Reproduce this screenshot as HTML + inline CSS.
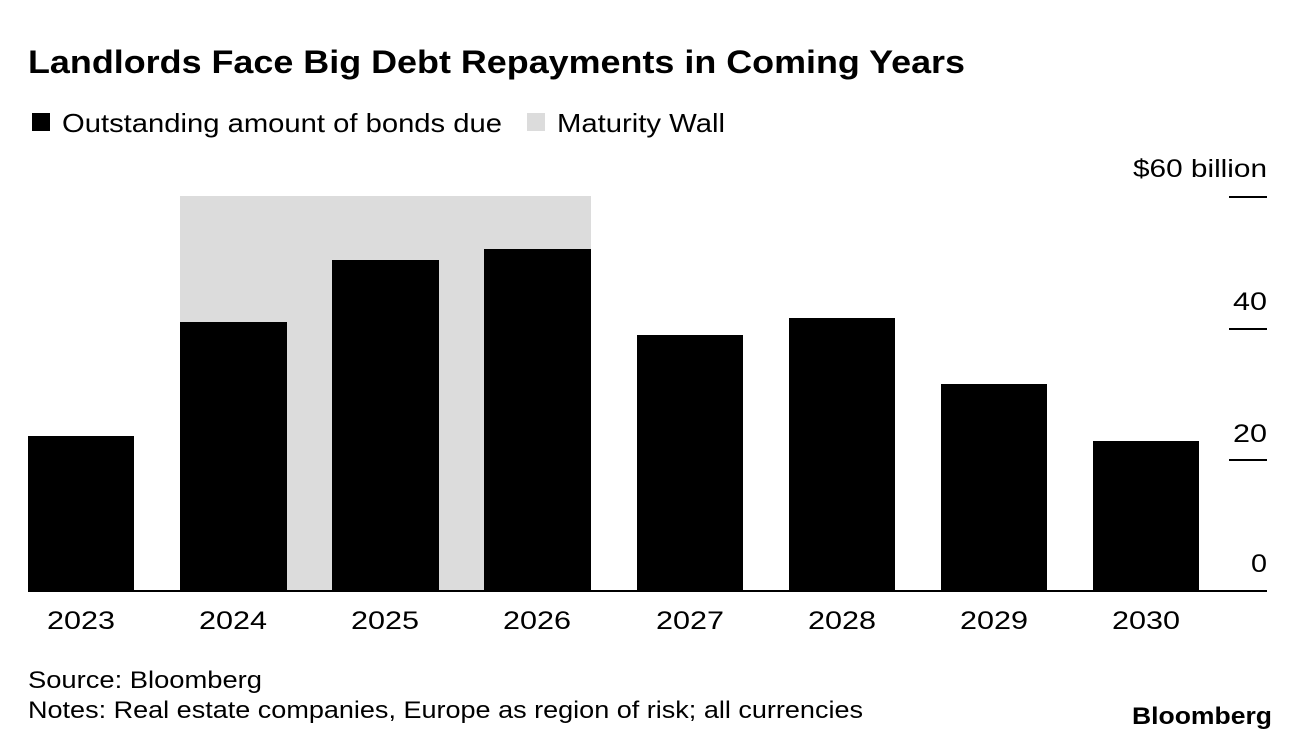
<!DOCTYPE html>
<html><head><meta charset="utf-8"><style>
html,body{margin:0;padding:0;background:#fff;}
body{width:1296px;height:748px;overflow:hidden;font-family:"Liberation Sans",Arial,sans-serif;}
</style></head><body>
<svg width="1296" height="748" xmlns="http://www.w3.org/2000/svg" font-family="Liberation Sans, Arial, sans-serif">
<text x="28" y="73" font-size="32" font-weight="bold" fill="#000" textLength="937" lengthAdjust="spacingAndGlyphs">Landlords Face Big Debt Repayments in Coming Years</text>
<rect x="32" y="113" width="18" height="18" fill="#000"/>
<text x="62" y="132" font-size="26" fill="#000" textLength="440" lengthAdjust="spacingAndGlyphs">Outstanding amount of bonds due</text>
<rect x="527" y="113" width="18" height="18" fill="#dcdcdc"/>
<text x="557" y="132" font-size="26" fill="#000" textLength="168" lengthAdjust="spacingAndGlyphs">Maturity Wall</text>
<rect x="180" y="196" width="411" height="395" fill="#dcdcdc"/>
<g fill="#000">
<rect x="28" y="436" width="106" height="155"/>
<rect x="180" y="322" width="107" height="269"/>
<rect x="332" y="260" width="107" height="331"/>
<rect x="484" y="249" width="107" height="342"/>
<rect x="637" y="335" width="106" height="256"/>
<rect x="789" y="318" width="106" height="273"/>
<rect x="941" y="384" width="106" height="207"/>
<rect x="1093" y="441" width="106" height="150"/>
</g>
<line x1="28" y1="591" x2="1267" y2="591" stroke="#000" stroke-width="2"/>
<g stroke="#000" stroke-width="2">
<line x1="1229" y1="197" x2="1267" y2="197"/>
<line x1="1229" y1="329" x2="1267" y2="329"/>
<line x1="1229" y1="460" x2="1267" y2="460"/>
</g>
<g font-size="25" fill="#000">
<text x="1133" y="177" textLength="134" lengthAdjust="spacingAndGlyphs">$60 billion</text>
<text x="1233" y="310" textLength="34" lengthAdjust="spacingAndGlyphs">40</text>
<text x="1233" y="442" textLength="34" lengthAdjust="spacingAndGlyphs">20</text>
<text x="1251" y="572" textLength="16" lengthAdjust="spacingAndGlyphs">0</text>
</g>
<g font-size="25" fill="#000">
<text x="47" y="629" textLength="68" lengthAdjust="spacingAndGlyphs">2023</text>
<text x="199" y="629" textLength="68" lengthAdjust="spacingAndGlyphs">2024</text>
<text x="351" y="629" textLength="68" lengthAdjust="spacingAndGlyphs">2025</text>
<text x="503" y="629" textLength="68" lengthAdjust="spacingAndGlyphs">2026</text>
<text x="656" y="629" textLength="68" lengthAdjust="spacingAndGlyphs">2027</text>
<text x="808" y="629" textLength="68" lengthAdjust="spacingAndGlyphs">2028</text>
<text x="960" y="629" textLength="68" lengthAdjust="spacingAndGlyphs">2029</text>
<text x="1112" y="629" textLength="68" lengthAdjust="spacingAndGlyphs">2030</text>
</g>
<text x="28" y="688" font-size="24" fill="#000" textLength="234" lengthAdjust="spacingAndGlyphs">Source: Bloomberg</text>
<text x="28" y="718" font-size="24" fill="#000" textLength="835" lengthAdjust="spacingAndGlyphs">Notes: Real estate companies, Europe as region of risk; all currencies</text>
<text x="1132" y="724" font-size="24" font-weight="bold" fill="#000" textLength="140" lengthAdjust="spacingAndGlyphs">Bloomberg</text>
</svg>
</body></html>
